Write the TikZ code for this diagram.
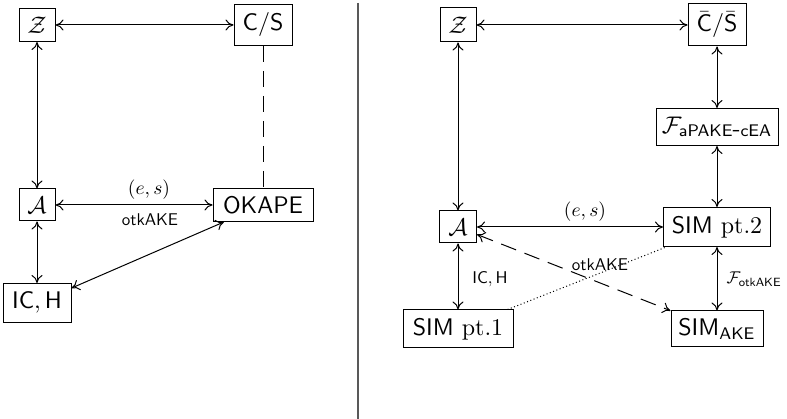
\documentclass[tikz,border=0pt]{standalone}
\usepackage{graphicx}
\usetikzlibrary{arrows.meta}
\newcommand{\bxt}[1]{\scalebox{2.4}{#1}}
\newcommand{\lbt}[1]{\scalebox{1.7}{#1}}
\newcommand{\est}[1]{\scalebox{1.95}{#1}}
\begin{document}
\begin{tikzpicture}[x=1pt,y=-1pt,
  box/.style={draw, line width=1pt, inner sep=0pt},
  lbl/.style={inner sep=0pt},
  link/.style={line width=1pt, {Computer Modern Rightarrow[length=8pt,width=11pt]}-{Computer Modern Rightarrow[length=8pt,width=11pt]}},
  dashline/.style={line width=1pt, dash pattern=on 16pt off 9pt},
  dotline/.style={line width=1pt, dash pattern=on 1pt off 2.5pt}]
\useasboundingbox (0,0) rectangle (787,419);
% left panel
\node[box, minimum width=36pt, minimum height=33pt] (zL) at (37,25) {\bxt{$\mathcal{Z}$}};
\node[box, minimum width=58pt, minimum height=41pt] (csL) at (263,25) {\bxt{$\mathsf{C}/\mathsf{S}$}};
\node[box, minimum width=36pt, minimum height=32pt] (aL) at (37,205) {\bxt{$\mathcal{A}$}};
\node[box, minimum width=100pt, minimum height=33pt] (okape) at (263,205) {\bxt{\textsf{OKAPE}}};
\node[box, minimum width=68pt, minimum height=39pt] (ich) at (37,303) {\bxt{$\mathsf{IC},\mathsf{H}$}};
\draw[link] (zL) -- (csL);
\draw[link] (zL) -- (aL);
\draw[link] (aL) -- (okape);
\draw[link] (aL) -- (ich);
\draw[link] (ich) -- (okape);
\draw[dashline] (csL) -- (okape);
\node[lbl] (esL) at (149,190) {\est{$(e,s)$}};
\node[lbl] (okL) at (150,220) {\lbt{\textsf{otkAKE}}};
% divider
\draw[line width=1.3pt, black!65] (358,3) -- (358,419);
% right panel
\node[box, minimum width=36pt, minimum height=34pt] (zR) at (458,25) {\bxt{$\mathcal{Z}$}};
\node[box, minimum width=58pt, minimum height=42pt] (csR) at (717,25) {\bxt{$\bar{\mathsf{C}}/\bar{\mathsf{S}}$}};
\node[box, minimum width=122pt, minimum height=37pt] (fpake) at (717,127) {\bxt{$\mathcal{F}_{\mathsf{aPAKE\textsf{-}cEA}}$}};
\node[box, minimum width=37pt, minimum height=32pt] (aR) at (458,227) {\bxt{$\mathcal{A}$}};
\node[box, minimum width=107pt, minimum height=39pt] (sim2) at (717,227) {\bxt{\textsf{SIM} pt.2}};
\node[box, minimum width=110pt, minimum height=38pt] (sim1) at (458,329) {\bxt{\textsf{SIM} pt.1}};
\node[box, minimum width=92pt, minimum height=36pt] (simake) at (717,329) {\bxt{\textsf{SIM}$_{\mathsf{AKE}}$}};
\draw[link] (zR) -- (csR);
\draw[link] (zR) -- (aR);
\draw[link] (csR) -- (fpake);
\draw[link] (fpake) -- (sim2);
\draw[link] (aR) -- (sim2);
\draw[link] (aR) -- (sim1);
\draw[link] (sim2) -- (simake);
\draw[link, dashline] (aR) -- (simake);
\draw[dotline] (sim1) -- (sim2);
\node[lbl] (esR) at (585,212) {\est{$(e,s)$}};
\node[lbl] (okR) at (600,265) {\lbt{\textsf{otkAKE}}};
\node[lbl] (ichR) at (490,279) {\lbt{$\mathsf{IC},\mathsf{H}$}};
\node[lbl] (fotk) at (754,279) {\lbt{$\mathcal{F}_{\mathsf{otkAKE}}$}};
\end{tikzpicture}
\end{document}
